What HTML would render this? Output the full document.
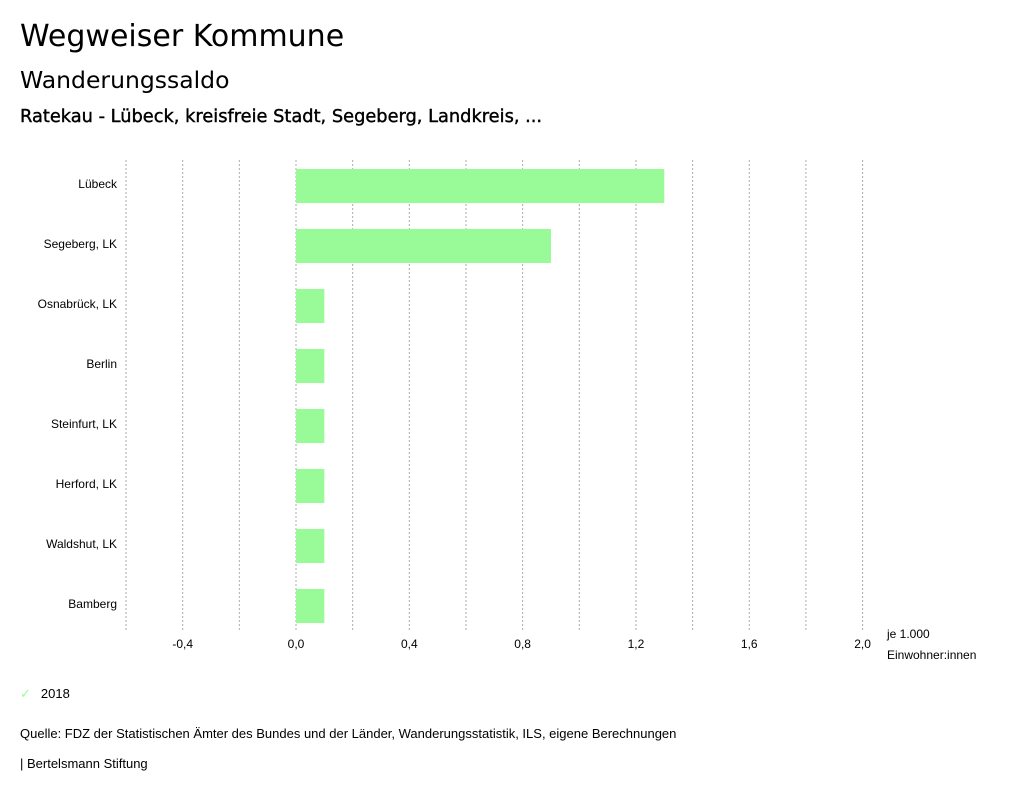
<!DOCTYPE html>
<html><head><meta charset="utf-8"><style>
body{margin:0;background:#fff;font-family:"Liberation Sans","DejaVu Sans",sans-serif;color:#000}
#wrap{position:relative;width:1024px;height:797px;overflow:hidden}
.t{position:absolute;white-space:nowrap}
.dv{font-family:"DejaVu Sans","Liberation Sans",sans-serif}
</style></head><body>
<div id="wrap">
<div class="t dv" style="left:20px;top:19px;font-size:30px">Wegweiser Kommune</div>
<div class="t dv" style="left:20px;top:66px;font-size:23.5px">Wanderungssaldo</div>
<div class="t dv" style="left:20px;top:106px;font-size:17.8px;-webkit-text-stroke:0.4px #000">Ratekau - Lübeck, kreisfreie Stadt, Segeberg, Landkreis, ...</div>
<svg id="chart" width="1024" height="797" style="position:absolute;left:0;top:0"></svg>
<div class="t" style="left:20px;top:686px;font-size:13px"><span style="color:#98fb98;margin-right:10px">✓</span>2018</div>
<div class="t" style="left:20px;top:726px;font-size:13px">Quelle: FDZ der Statistischen Ämter des Bundes und der Länder, Wanderungsstatistik, ILS, eigene Berechnungen</div>
<div class="t" style="left:20px;top:756px;font-size:13px">| Bertelsmann Stiftung</div>
</div>
<script>
const categories=["Lübeck","Segeberg, LK","Osnabrück, LK","Berlin","Steinfurt, LK","Herford, LK","Waldshut, LK","Bamberg"];
const values2018=[1.3,0.9,0.1,0.1,0.1,0.1,0.1,0.1];
const tickValues=[-0.4,0,0.4,0.8,1.2,1.6,2.0];
const tickLabels=["-0,4","0,0","0,4","0,8","1,2","1,6","2,0"];
const gridValues=[-0.6,-0.4,-0.2,0,0.2,0.4,0.6,0.8,1.0,1.2,1.4,1.6,1.8,2.0];
const NS="http://www.w3.org/2000/svg";
const svg=document.getElementById('chart');
const x=v=>296+v*283.3;
const y=i=>156+i*60;
function mk(t,a){const e=document.createElementNS(NS,t);for(const k in a)e.setAttribute(k,a[k]);svg.appendChild(e);return e;}
gridValues.forEach(v=>{
 const l=mk('line',{x1:x(v),x2:x(v),y1:160,y2:632,stroke:'#aaa','stroke-width':1,'stroke-dasharray':'2,2'});
 
 
});
tickValues.forEach((v,i)=>{
 const t=mk('text',{x:x(v),y:648,'font-size':12,'text-anchor':'middle','font-family':'Liberation Sans, sans-serif'});
 t.textContent=tickLabels[i];
 
 
});
categories.forEach((c,i)=>{
 const t=mk('text',{x:117,y:y(i)+32,'font-size':12,'text-anchor':'end','font-family':'Liberation Sans, sans-serif'});
 t.textContent=c;
 
 
 const v=values2018[i];
 const r=mk('rect',{x:Math.min(x(0),x(v)),y:y(i)+13,width:Math.abs(x(v)-x(0)),height:34,fill:'#98fb98'});
 
 
});
[["je 1.000",638],["Einwohner:innen",659]].forEach(([s,yy])=>{
 const t=mk('text',{x:887,y:yy,'font-size':12,'font-family':'Liberation Sans, sans-serif'});
 t.textContent=s;
 
 
});
</script>
</body></html>
